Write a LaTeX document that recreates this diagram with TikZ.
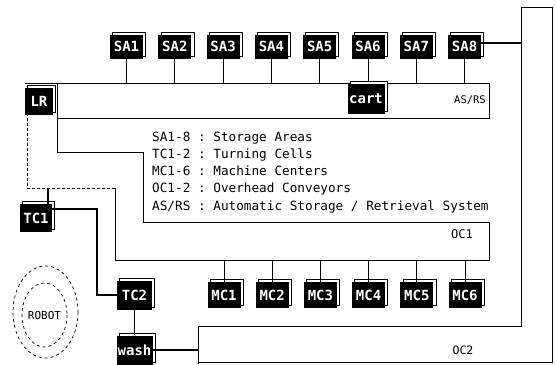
\documentclass[tikz,border=0pt]{standalone}
\usepackage{fontspec}
\setmonofont{DejaVu Sans Mono}
\usetikzlibrary{positioning,shadows}
\tikzset{
  unit/.style={fill=black, text=white, font=\ttfamily\bfseries\fontsize{14}{14}\selectfont,
    inner sep=0pt, minimum width=33pt, minimum height=24pt,
    general shadow={fill=white, draw=black, line width=0.6pt, shadow xshift=2.5pt, shadow yshift=2.5pt}},
  conv/.style={line width=0.7pt},
  feed/.style={line width=0.9pt},
  link/.style={line width=1.8pt},
  lbl/.style={font=\ttfamily\fontsize{12.7}{12.7}\selectfont, anchor=base west, inner sep=0pt},
  tag/.style={font=\ttfamily\fontsize{11.5}{11.5}\selectfont, inner sep=0pt}
}
\begin{document}
\begin{tikzpicture}[x=1pt,y=-1pt]
    \useasboundingbox (0,0) rectangle (556,364);

    % named points on the conveyors
    \coordinate (asrsTop) at (0,83);
    \coordinate (ocOneBot) at (0,260);
    \coordinate (ocTwoIn) at (521,0);
    \coordinate (ocTwoLeft) at (198,0);
    \coordinate (tcTurn) at (97,209);
    \coordinate (oneLoop) at (48,188);

    % === AS/RS conveyor ===
    \draw[conv] (25,83) -- (489,83) -- (489,118) -- (57,118);
    \node[tag, font=\ttfamily\fontsize{10.5}{10.5}\selectfont] (asrsTag) at (470,100) {AS/RS};

    % === OC1: loop round the legend ===
    \draw[conv] (57,83) -- (57,152) -- (143,152) -- (143,222) -- (489,222)
      -- (489,260) -- (115,260) -- (115,188);
    \draw[conv, densely dashed] (115,188) -- (27,188) -- (27,115);
    \node[tag, font=\ttfamily\fontsize{12}{12}\selectfont] (ocOneTag) at (462,234) {OC1};

    % === OC2 ===
    \draw[conv] (198,364) -- (198,326) -- (521,326) -- (521,7) -- (552,7)
      -- (552,362) -- (198,362);
    \node[tag] (ocTwoTag) at (463,350) {OC2};

    % === Legend ===
    \node[lbl] (keySA) at (152,141) {SA1-8 : Storage Areas};
    \node[lbl] (keyTC) at (152,158.3) {TC1-2 : Turning Cells};
    \node[lbl] (keyMC) at (152,175.6) {MC1-6 : Machine Centers};
    \node[lbl] (keyOC) at (152,192.9) {OC1-2 : Overhead Conveyors};
    \node[lbl] (keyAS) at (152,210.2) {AS/RS : Automatic Storage / Retrieval System};

    % === Robot ===
    \draw[conv, dashed] (45.5,312) ellipse [x radius=32.5, y radius=46];
    \draw[conv, dashed] (44.5,315) ellipse [x radius=22.5, y radius=32];
    \node[tag, font=\ttfamily\fontsize{11}{11}\selectfont] (robot) at (44.5,315) {ROBOT};

    % === Stations ===
    \foreach \i in {1,...,8} {
        \node[unit] (sa\i) at ({126.5+48.3*(\i-1)},46.5) {SA\i};
        \draw[feed] (sa\i.south) -- (sa\i.south |- asrsTop);
    }
    \node[unit, minimum width=28pt, minimum height=27pt] (lr) at (39,101.5) {LR};
    \node[unit, minimum width=37pt, minimum height=30pt] (cart) at (366,98.5) {cart};

    \foreach \i in {1,...,6} {
        \node[unit, minimum height=26pt] (mc\i) at ({224+48.2*(\i-1)},295) {MC\i};
        \draw[feed] (mc\i.north) -- (mc\i.north |- ocOneBot);
    }

    \node[unit, minimum width=32pt, minimum height=28pt] (tc1) at (36,218) {TC1};
    \node[unit, minimum width=35pt, minimum height=29pt] (tc2) at (134.5,295) {TC2};
    \node[unit, minimum width=36pt, minimum height=29pt] (wash) at (134.5,350) {wash};

    % links
    \draw[link] (sa8.east |- 0,43) -- (ocTwoIn |- 0,43);
    \draw[link] (tc1.north -| oneLoop) -- (oneLoop);
    \draw[link] (tc1.east |- tcTurn) -- (tcTurn) |- (tc2.west);
    \draw[link] (tc2.south) -- (wash.north);
    \draw[link] (wash.east) -- (wash.east -| ocTwoLeft);

\end{tikzpicture}
\end{document}
